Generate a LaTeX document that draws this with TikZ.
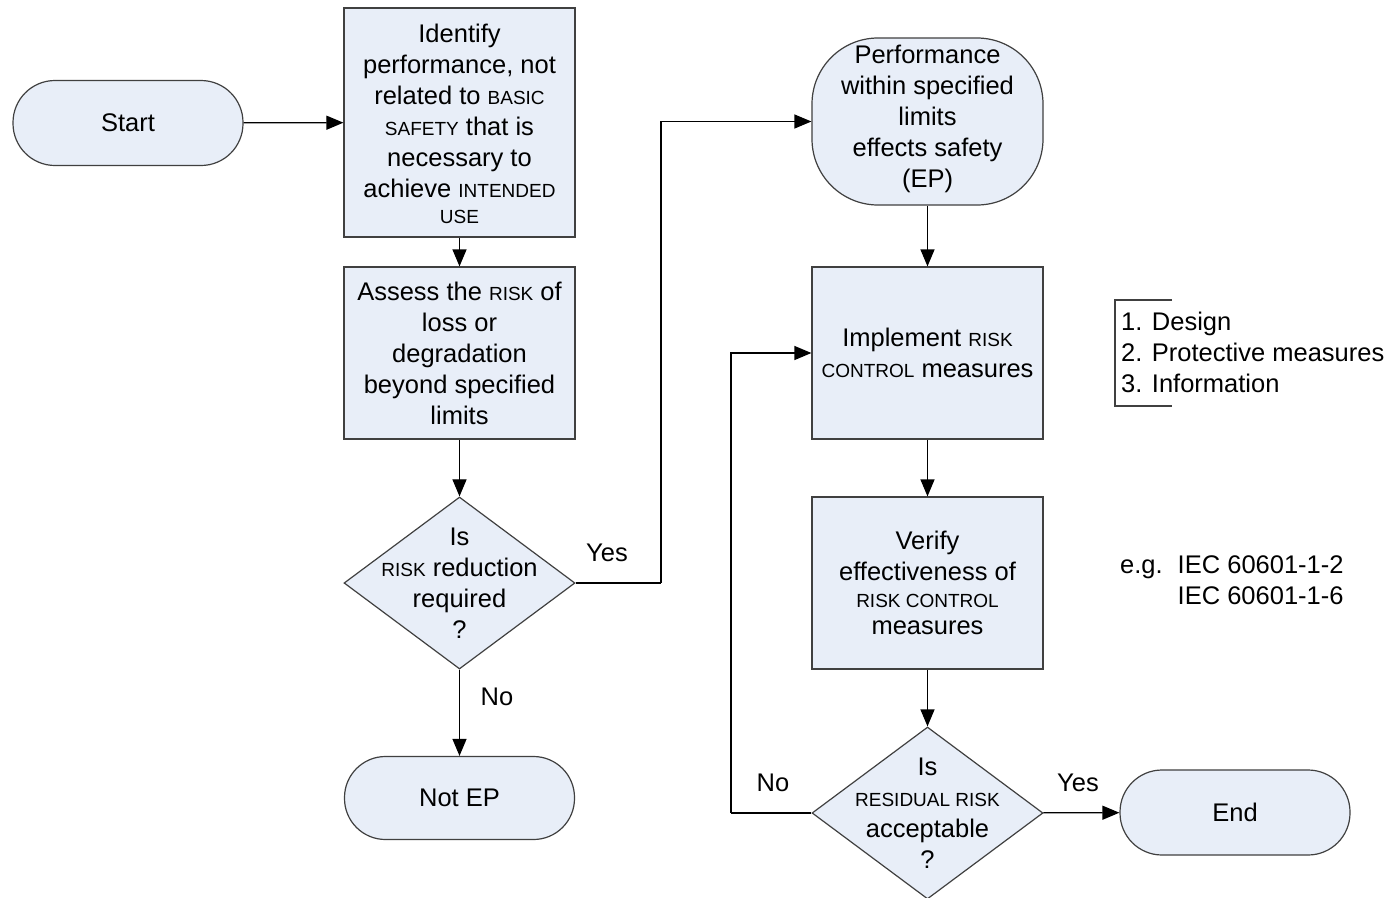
\documentclass[tikz,border=0pt]{standalone}
\usepackage{fontspec}
\setmainfont{Liberation Sans}
\usetikzlibrary{shapes.geometric,arrows.meta}
\definecolor{boxfill}{HTML}{E8EEF8}
\definecolor{boxline}{HTML}{404040}
\newcommand\capsm[1]{{\fontsize{19}{31}\selectfont #1}}
\tikzset{
  base/.style={draw=boxline,fill=boxfill,line width=1.2pt,align=center,inner sep=0pt,
    font=\fontsize{25.5}{31}\selectfont},
  procbox/.style={base,rectangle,minimum width=231pt,minimum height=172pt},
  termbox/.style={base,rectangle,rounded corners=42pt,minimum width=230pt,minimum height=85pt},
  decbox/.style={base,diamond,minimum width=231pt,minimum height=172pt},
  txt/.style={align=center,inner sep=0pt,font=\fontsize{25.5}{31}\selectfont},
  flow/.style={line width=1.2pt,-{Triangle[length=17pt,width=14pt]}}
}
\begin{document}
\begin{tikzpicture}[x=1pt,y=-1pt]
      \useasboundingbox[fill=white] (0,0) rectangle (1387,897);
      \node[termbox] (start) at (128,123) {Start};
      \node[procbox,minimum height=229pt] (ident) at (459.5,122.5) {};
      \node[txt] (identtxt) at (459.5,124) {Identify\\ performance, not\\ related to \capsm{BASIC}\\
        \capsm{SAFETY} that is\\ necessary to\\ achieve \capsm{INTENDED}\\[-5pt] \capsm{USE}};
      \node[procbox] (assess) at (459.5,353) {Assess the \capsm{RISK} of\\ loss or\\ degradation\\
        beyond specified\\ limits};
      \node[decbox] (reduce) at (459.5,583) {};
      \node[txt] (reducetxt) at (459.5,583) {Is\\ \capsm{RISK} reduction\\ required\\ ?};
      \node[termbox,minimum height=83pt,rounded corners=41pt] (notep) at (459.5,798) {Not EP};
      \node[base,rectangle,rounded corners=66pt,minimum width=231pt,minimum height=167pt]
        (perf) at (927.5,121.5) {};
      \node[txt] (perftxt) at (927.5,118.5) {Performance\\ within specified\\ limits\\
        effects safety\\ (EP)};
      \node[procbox] (impl) at (927.5,353) {Implement \capsm{RISK}\\ \capsm{CONTROL} measures};
      \node[procbox] (verify) at (927.5,583) {};
      \node[txt] (verifytxt) at (927.5,583) {Verify\\ effectiveness of\\[-4pt] \capsm{RISK CONTROL}\\[-4pt]
        measures};
      \node[decbox] (accept) at (927.5,813) {};
      \node[txt] (accepttxt) at (927.5,813) {Is\\ \capsm{RESIDUAL RISK}\\ acceptable\\ ?};
      \node[termbox] (end) at (1235,812.5) {End};
      % notes on the right
      \draw[boxline,line width=1.2pt] (1172,300) -- (1115,300) -- (1115,406) -- (1172,406);
      \node[txt,align=left,anchor=west] (means) at (1121,352) {1. Design\\ 2. Protective measures\\
        3. Information};
      \node[txt,anchor=west] (iec) at (1120,583) {\begin{tabular}{@{}l@{\hspace{15pt}}l@{}}
        e.g. & IEC 60601-1-2\\[0pt] & IEC 60601-1-6\end{tabular}};
      \coordinate (k1) at (661,583);
      \coordinate (k2) at (731,813);
      \begin{scope}[flow]
        \draw (start) to (ident);
        \draw (ident) to (assess);
        \draw (assess) to (reduce);
        \draw (reduce) to (notep);
        \draw[-] (reduce.east) to (k1);
        \draw (k1) |- (perf.west);
        \draw (perf) to (impl);
        \draw (impl) to (verify);
        \draw (verify) to (accept);
        \draw[-] (accept.west) to (k2);
        \draw (k2) |- (impl.west);
        \draw (accept) to (end);
      \end{scope}
      \node[txt] (yes1) at (607,553) {Yes};
      \node[txt] (no1) at (497,697) {No};
      \node[txt] (no2) at (773,783) {No};
      \node[txt] (yes2) at (1078,783) {Yes};
    \end{tikzpicture}
\end{document}
